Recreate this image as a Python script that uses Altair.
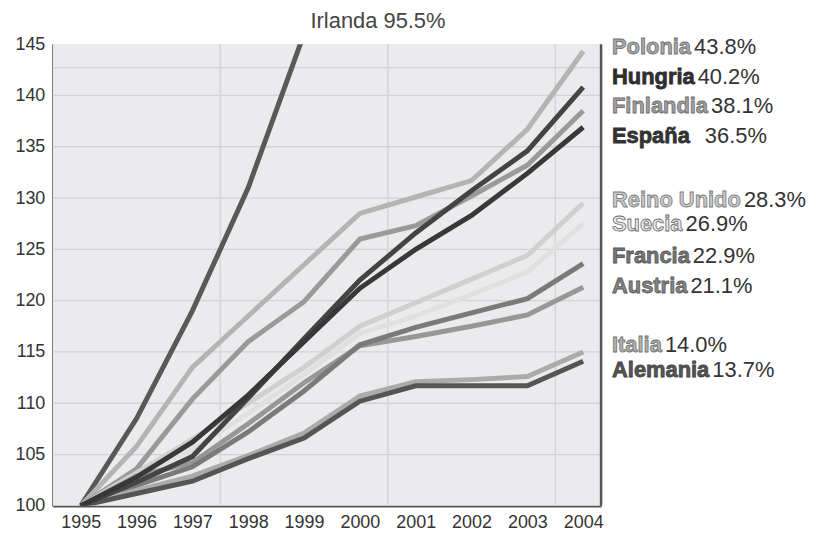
import altair as alt
import pandas as pd

years = list(range(1995, 2005))

countries = ["Irlanda", "Polonia", "Finlandia", "Reino Unido", "Suecia", "Austria",
             "Francia", "Italia", "Alemania", "Hungria", "España"]

irlanda = [100, 108.5, 119.0, 131.0, 146.0]
polonia = [100, 105.8, 113.5, 118.5, 123.5, 128.5, 130.1, 131.7, 136.7, 144.3]
finlandia = [100, 103.6, 110.4, 116.0, 119.9, 126.0, 127.3, 130.2, 133.2, 138.5]
reino_unido = [100, 103.2, 106.5, 110.0, 113.5, 117.5, 119.8, 122.1, 124.4, 129.5]
suecia = [100, 102.8, 105.5, 109.0, 112.8, 116.8, 118.5, 120.6, 122.8, 127.5]
austria = [100, 102.9, 104.2, 108.0, 112.0, 115.6, 116.5, 117.5, 118.6, 121.3]
francia = [100, 102.0, 103.8, 107.2, 111.2, 115.7, 117.4, 118.8, 120.2, 123.6]
italia = [100, 101.5, 102.9, 104.9, 107.1, 110.7, 112.1, 112.3, 112.6, 115.0]
alemania = [100, 101.2, 102.4, 104.6, 106.6, 110.2, 111.7, 111.7, 111.7, 114.1]
hungria = [100, 102.3, 104.8, 110.5, 116.3, 122.0, 126.6, 130.7, 134.6, 140.8]
espana = [100, 102.8, 106.2, 110.8, 116.0, 121.2, 125.0, 128.3, 132.4, 136.9]

series = [irlanda, polonia, finlandia, reino_unido, suecia, austria,
          francia, italia, alemania, hungria, espana]

line_colors = ["#595959", "#b4b4b4", "#9a9a9a", "#d0d0d0", "#e0e0e0", "#979797",
               "#7a7a7a", "#ababab", "#555555", "#444444", "#383838"]

# right-hand labels (top to bottom)
label_names = ["Polonia", "Hungria", "Finlandia", "España", "Reino Unido", "Suecia",
               "Francia", "Austria", "Italia", "Alemania"]
label_pcts = ["43.8%", "40.2%", "38.1%", "36.5%", "28.3%", "26.9%",
              "22.9%", "21.1%", "14.0%", "13.7%"]
label_y = [144.71, 141.80, 138.99, 136.07, 129.77, 127.45, 124.34, 121.43, 115.71, 113.19]
label_fill = ["#a8a8a8", "#2e2e2e", "#a0a0a0", "#333333", "#cacaca", "#e8e8e8",
              "#777777", "#858585", "#b2b2b2", "#555555"]
label_edge = ["#6e6e6e", "#2e2e2e", "#6e6e6e", "#333333", "#7a7a7a", "#6a6a6a",
              "#555555", "#5a5a5a", "#707070", "#444444"]
label_gap = [3, 3, 3, 15, 3, 3, 3, 3, 3, 3]

irl_label = "Irlanda 95.5%"

y_ticks = list(range(100, 150, 5))
grid_y = [105, 110, 115, 120, 125, 130, 135, 140, 142.7]
grid_x = [1997.5, 2000.5, 2003.5]

W, H = 551, 464
FS = 22
NAME_X = 562

bold_w = {'P': 667, 'o': 611, 'l': 278, 'n': 611, 'i': 278, 'a': 556, 'H': 722, 'u': 611,
          'g': 611, 'r': 389, 'F': 611, 'd': 611, 'E': 667, 's': 556, 'p': 611, 'ñ': 611,
          'R': 722, 'e': 556, 'U': 722, 'S': 667, 'c': 556, 'A': 722, 't': 333, 'I': 278,
          'm': 889, ' ': 278}


def text_width(s, size):
    return sum(bold_w.get(ch, 600) for ch in s) / 1000.0 * size


rows = []
for c, vals in zip(countries, series):
    for yr, v in zip(years, vals):
        rows.append({"country": c, "year": yr, "value": v})
df = pd.DataFrame(rows)

lab = pd.DataFrame({
    "name": label_names,
    "pct": label_pcts,
    "ly": label_y,
    "fill": label_fill,
    "edge": label_edge,
    "nx": [NAME_X] * len(label_names),
    "px": [NAME_X + text_width(n, FS) + g for n, g in zip(label_names, label_gap)],
})

xscale = alt.Scale(domain=[1994.5, 2004.32], nice=False, zero=False)
yscale = alt.Scale(domain=[100, 145], nice=False, zero=False)

xaxis = alt.Axis(values=years, format="d", grid=False, ticks=False,
                 domainColor="#555555", domainWidth=2.5, labelFontSize=18,
                 labelColor="#333333", labelPadding=8, title=None,
                 labelFont="Liberation Sans")
yaxis = alt.Axis(values=y_ticks, grid=False, ticks=False,
                 domainColor="#555555", domainWidth=2.5, labelFontSize=18,
                 labelColor="#333333", labelPadding=8, title=None,
                 labelFont="Liberation Sans")

bg = alt.Chart(pd.DataFrame({"a": [0]})).mark_rect(color="#ebebee").encode(
    x=alt.value(0), x2=alt.value(W), y=alt.value(0), y2=alt.value(H))

grid_h = alt.Chart(pd.DataFrame({"value": grid_y})).mark_rule(
    color="#d3d3d6", strokeWidth=1.3).encode(
    y=alt.Y("value:Q", scale=yscale, axis=yaxis))
grid_v = alt.Chart(pd.DataFrame({"year": grid_x})).mark_rule(
    color="#d3d3d6", strokeWidth=1.3).encode(
    x=alt.X("year:Q", scale=xscale, axis=xaxis))

lines = alt.Chart(df).mark_line(strokeWidth=5, clip=True, strokeCap="butt").encode(
    x=alt.X("year:Q", scale=xscale, axis=xaxis),
    y=alt.Y("value:Q", scale=yscale, axis=yaxis),
    color=alt.Color("country:N", scale=alt.Scale(domain=countries, range=line_colors),
                    legend=None),
    detail="country:N",
)

border = alt.Chart(pd.DataFrame({"a": [0]})).mark_rule(
    color="#555555", strokeWidth=2.5).encode(
    x=alt.value(W), y=alt.value(0), y2=alt.value(H))

name_text = alt.Chart(lab).mark_text(
    align="left", baseline="middle", fontSize=FS, fontWeight="bold",
    font="Liberation Sans", strokeWidth=0.8).encode(
    x=alt.X("nx:Q", scale=None), y=alt.Y("ly:Q", scale=yscale, axis=yaxis),
    text="name:N",
    color=alt.Color("fill:N", scale=None),
    stroke=alt.Stroke("edge:N", scale=None))

pct_text = alt.Chart(lab).mark_text(
    align="left", baseline="middle", fontSize=FS, font="Liberation Sans",
    color="#333333").encode(
    x=alt.X("px:Q", scale=None), y=alt.Y("ly:Q", scale=yscale, axis=yaxis),
    text="pct:N")

irl = alt.Chart(pd.DataFrame({"t": [irl_label]})).mark_text(
    align="left", baseline="middle", fontSize=FS, font="Liberation Sans",
    color="#444444").encode(
    x=alt.value(259), y=alt.value(-23), text="t:N")

chart = alt.layer(bg, grid_h, grid_v, lines, border, name_text, pct_text, irl).properties(
    width=W, height=H,
    autosize=alt.AutoSizeParams(type="none"),
    padding={"left": 45, "top": 35, "right": 215, "bottom": 28},
).configure_view(stroke=None).configure(background="white")

chart.save("out.html", embed_options={"renderer": "svg", "actions": False})
